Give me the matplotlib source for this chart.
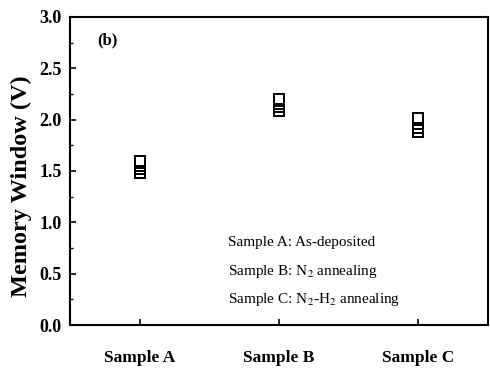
import numpy as np
import matplotlib.pyplot as plt
from matplotlib.ticker import MultipleLocator

samples = ['Sample A', 'Sample B', 'Sample C']
window_a = [1.48, 1.52, 1.55, 1.58, 1.60]
window_b = [2.08, 2.12, 2.15, 2.18, 2.20]
window_c = [1.88, 1.92, 1.96, 2.00, 2.02]
notes = ['Sample A: As-deposited',
         r'Sample B: N$_2$ annealing',
         r'Sample C: N$_2$-H$_2$ annealing']

plt.rcParams['font.family'] = 'Liberation Serif'
plt.rcParams['mathtext.fontset'] = 'stix'

fig = plt.figure(figsize=(4.9, 3.74), dpi=100)
ax = fig.add_axes([0.143, 0.131, 0.853, 0.824])

for i, vals in enumerate([window_a, window_b, window_c]):
    ax.plot([i + 1] * len(vals), vals, 's', color='black', markerfacecolor='white',
            markersize=7, markeredgewidth=1.4, linestyle='none')

ax.set_xlim(0.5, 3.5)
ax.set_ylim(0, 3.0)
ax.set_xticks([1, 2, 3])
ax.set_xticklabels(samples, fontsize=12.5, fontweight='bold')
ax.yaxis.set_major_locator(MultipleLocator(0.5))
ax.yaxis.set_minor_locator(MultipleLocator(0.25))
for lbl in ax.get_yticklabels():
    lbl.set_fontweight('bold')
    lbl.set_fontsize(13)
ax.tick_params(direction='in', length=4, width=1.2, pad=6)
ax.tick_params(axis='x', pad=18)
ax.tick_params(which='minor', direction='in', length=2.5, width=1)
ax.tick_params(top=False, right=False)
for s in ax.spines.values():
    s.set_linewidth(1.5)

ax.set_ylabel('Memory Window (V)', fontsize=17.5, fontweight='bold')
ax.yaxis.set_label_coords(-0.09, 0.45)
ax.text(0.065, 0.91, '(b)', transform=ax.transAxes, fontsize=12, fontweight='bold')

for j, (t, y) in enumerate(zip(notes, [0.80, 0.52, 0.25])):
    ax.text(1.63, y, t, fontsize=11, va='center')

fig.savefig('out.png', dpi=100)
